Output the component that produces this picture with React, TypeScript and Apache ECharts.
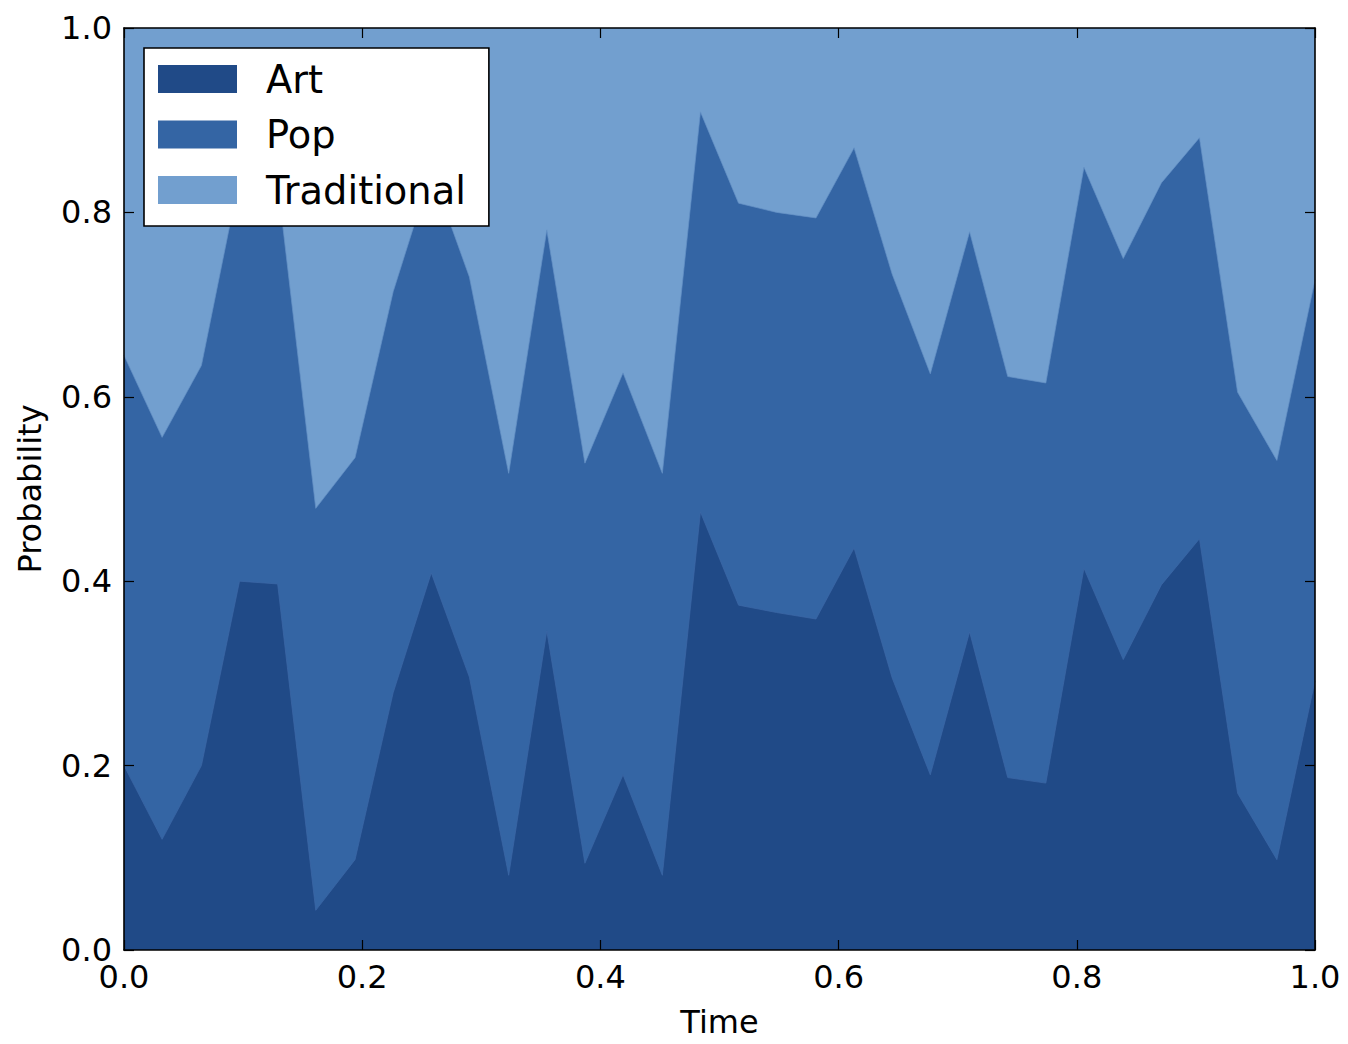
import React, { useEffect, useRef } from "react";
import * as echarts from "echarts";

const times = [0, 0.032, 0.065, 0.097, 0.129, 0.161, 0.194, 0.226, 0.258, 0.29, 0.323, 0.355, 0.387, 0.419, 0.452, 0.484, 0.516, 0.548, 0.581, 0.613, 0.645, 0.677, 0.71, 0.742, 0.774, 0.806, 0.839, 0.871, 0.903, 0.935, 0.968, 1.0];

const art = [0.2, 0.12, 0.2, 0.4, 0.397, 0.043, 0.098, 0.279, 0.409, 0.296, 0.081, 0.346, 0.094, 0.19, 0.081, 0.475, 0.374, 0.366, 0.359, 0.436, 0.295, 0.19, 0.345, 0.187, 0.181, 0.414, 0.315, 0.396, 0.446, 0.17, 0.098, 0.292];

const pop = [0.445, 0.436, 0.434, 0.438, 0.436, 0.436, 0.436, 0.435, 0.436, 0.434, 0.436, 0.435, 0.434, 0.436, 0.436, 0.434, 0.436, 0.434, 0.435, 0.434, 0.438, 0.435, 0.434, 0.435, 0.434, 0.435, 0.435, 0.436, 0.435, 0.435, 0.433, 0.435];

const traditional = [0.355, 0.444, 0.366, 0.162, 0.167, 0.521, 0.466, 0.286, 0.155, 0.27, 0.483, 0.219, 0.472, 0.374, 0.483, 0.091, 0.19, 0.2, 0.206, 0.13, 0.267, 0.375, 0.221, 0.378, 0.385, 0.151, 0.25, 0.168, 0.119, 0.395, 0.469, 0.273];

const seriesNames = ["Art", "Pop", "Traditional"];
const seriesColors = ["#204a87", "#3465a4", "#729fcf"];
const edgeColors = ["#3d68a6", "#6592c6", "#729fcf"];
const tickValues = ["0.0", "0.2", "0.4", "0.6", "0.8", "1.0"];

const FONT = "DejaVu Sans";

export default function App() {
  const ref = useRef<HTMLDivElement>(null);
  useEffect(() => {
    if (!ref.current) return;
    const chart = echarts.init(ref.current, undefined, { renderer: "svg" });
    const values = [art, pop, traditional];
    // cumulative stack tops (stackplot): each layer filled down to 0, drawn top layer first
    const tops = values.map((_, s) =>
      times.map((_, i) => {
        let sum = 0;
        for (let k = 0; k <= s; k++) sum += values[k][i];
        return sum;
      })
    );
    const axisLine = { show: true, onZero: false, lineStyle: { color: "#000", width: 1.6 } };
    const tick = { show: true, inside: true, length: 10, lineStyle: { color: "#000", width: 1.2 } };
    const fmt = (v: number) => tickValues[Math.round(v * 5)] ?? v.toFixed(1);
    const option: any = {
      animation: false,
      backgroundColor: "#ffffff",
      grid: { left: 124, right: 33, top: 28, bottom: 94, containLabel: false },
      legend: {
        orient: "vertical",
        left: 144,
        top: 48,
        data: seriesNames,
        icon: "rect",
        itemWidth: 79,
        itemHeight: 28,
        itemGap: 17.5,
        padding: [12, 23, 17, 14],
        backgroundColor: "#ffffff",
        borderColor: "#000",
        borderWidth: 1.6,
        borderRadius: 0,
        textStyle: { fontFamily: FONT, fontSize: 38.4, color: "#000", lineHeight: 38, padding: [0, 0, 0, 24] },
        z: 20,
      },
      xAxis: [
        {
          type: "value",
          min: 0,
          max: 1,
          interval: 0.2,
          position: "bottom",
          name: "Time",
          nameLocation: "middle",
          nameGap: 56,
          nameTextStyle: { fontFamily: FONT, fontSize: 32, color: "#000" },
          axisLine,
          axisTick: tick,
          splitLine: { show: false },
          axisLabel: { fontFamily: FONT, fontSize: 32, color: "#000", margin: 11, formatter: fmt },
          z: 10,
        },
        {
          type: "value",
          min: 0,
          max: 1,
          interval: 0.2,
          position: "top",
          axisLine,
          axisTick: tick,
          splitLine: { show: false },
          axisLabel: { show: false },
          z: 10,
        },
      ],
      yAxis: [
        {
          type: "value",
          min: 0,
          max: 1,
          interval: 0.2,
          position: "left",
          name: "Probability",
          nameLocation: "middle",
          nameGap: 78,
          nameTextStyle: { fontFamily: FONT, fontSize: 32, color: "#000" },
          axisLine,
          axisTick: tick,
          splitLine: { show: false },
          axisLabel: { fontFamily: FONT, fontSize: 32, color: "#000", margin: 12, formatter: fmt },
          z: 10,
        },
        {
          type: "value",
          min: 0,
          max: 1,
          interval: 0.2,
          position: "right",
          axisLine,
          axisTick: tick,
          splitLine: { show: false },
          axisLabel: { show: false },
          z: 10,
        },
      ],
      series: seriesNames.map((name, s) => ({
        name,
        type: "line",
        xAxisIndex: 0,
        yAxisIndex: 0,
        symbol: "none",
        showSymbol: false,
        data: times.map((t, i) => [t, tops[s][i]]),
        itemStyle: { color: seriesColors[s] },
        lineStyle: { color: edgeColors[s], width: 1, opacity: 0.7 },
        areaStyle: { color: seriesColors[s], opacity: 1, origin: "start" },
        emphasis: { disabled: true },
        z: 5 - s,
      })),
    };
    chart.setOption(option);
    return () => chart.dispose();
  }, []);
  return (
    <div
      ref={ref}
      style={{ position: "fixed", left: 0, top: 0, width: 1348, height: 1044, background: "#fff" }}
    />
  );
}
